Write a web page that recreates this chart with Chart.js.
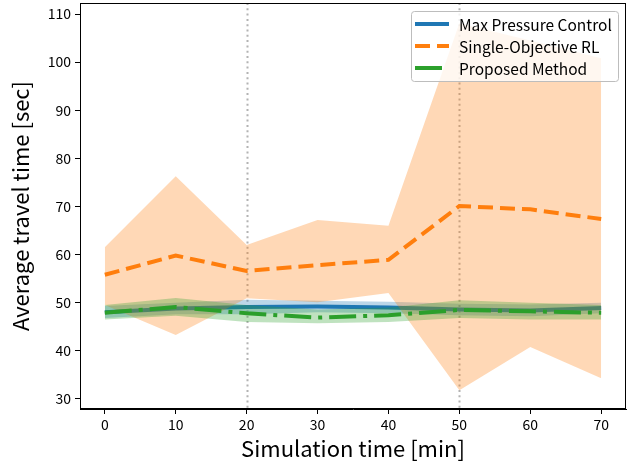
<!DOCTYPE html>
<html>
<head>
<meta charset="utf-8">
<script src="https://cdn.jsdelivr.net/npm/chart.js@4"></script>
<style>
  html, body { margin: 0; padding: 0; background: #fff; }
  #wrap { width: 635px; height: 466px; }
</style>
</head>
<body>
<div id="wrap"><canvas id="travelChart" width="635" height="466"></canvas></div>
<script>
// simulation time [min]
const times = [0, 10, 20, 30, 40, 50, 60, 70];

// Max Pressure Control
const maxPressureMean = [48.0, 48.8, 49.1, 49.2, 49.0, 48.6, 48.4, 48.9];
const maxPressureHigh = [49.3, 50.0, 50.6, 50.4, 50.2, 49.8, 49.6, 50.0];
const maxPressureLow  = [46.8, 47.6, 47.6, 48.0, 47.8, 47.4, 47.2, 47.8];

// Single-Objective RL
const singleRlMean = [55.8, 59.8, 56.6, 57.8, 58.9, 70.1, 69.4, 67.4];
const singleRlHigh = [61.5, 76.3, 62.0, 67.2, 66.0, 108.1, 104.5, 100.8];
const singleRlLow  = [49.5, 43.3, 50.9, 50.1, 52.0, 31.8, 40.8, 34.3];

// Proposed Method
const proposedMean = [47.9, 49.1, 47.8, 46.9, 47.4, 48.5, 48.2, 47.9];
const proposedHigh = [49.5, 51.0, 49.5, 48.6, 49.0, 50.5, 50.0, 49.5];
const proposedLow  = [46.5, 47.3, 46.0, 45.7, 46.0, 46.8, 46.5, 46.5];

// dotted reference lines
const markerTimes = [20, 50];

const xTicks = [0, 10, 20, 30, 40, 50, 60, 70];
const yTicks = [30, 40, 50, 60, 70, 80, 90, 100, 110];

const FONT = '"Noto Sans CJK JP", "Noto Sans", sans-serif';

const pts = arr => arr.map((v, i) => ({ x: times[i], y: v }));

function band(high, low, fillColor) {
  return [
    { label: "_band", data: pts(high), borderWidth: 0, pointRadius: 0,
      backgroundColor: fillColor, fill: "+1", tension: 0 },
    { label: "_band", data: pts(low), borderWidth: 0, pointRadius: 0,
      backgroundColor: fillColor, fill: false, tension: 0 }
  ];
}

function meanLine(label, data, color, dash) {
  return { label, data: pts(data), borderColor: color, backgroundColor: color,
    borderWidth: 4, borderDash: dash, pointRadius: 0, fill: false, tension: 0,
    borderCapStyle: "butt" };
}

const series = [
  { label: "Max Pressure Control", color: "#1f77b4", dash: [] },
  { label: "Single-Objective RL", color: "#ff7f0e", dash: [15, 7] },
  { label: "Proposed Method", color: "#2ca02c", dash: [27, 7, 4, 7] }
];

// draw order like the original: line then its band, per method
const datasets = [
  meanLine(series[0].label, maxPressureMean, series[0].color, series[0].dash),
  ...band(maxPressureHigh, maxPressureLow, "rgba(31,119,180,0.3)"),
  meanLine(series[1].label, singleRlMean, series[1].color, series[1].dash),
  ...band(singleRlHigh, singleRlLow, "rgba(255,127,14,0.3)"),
  meanLine(series[2].label, proposedMean, series[2].color, series[2].dash),
  ...band(proposedHigh, proposedLow, "rgba(44,160,44,0.3)")
];
// later datasets draw first in Chart.js, so reverse to keep the stacking
datasets.forEach((d, i) => { d.order = datasets.length - i; });

// frame, dotted markers and legend
const decorPlugin = {
  id: "decor",
  beforeDatasetsDraw(chart) {
    const { ctx, chartArea: a, scales } = chart;
    ctx.save();
    ctx.strokeStyle = "rgba(128,128,128,0.6)";
    ctx.lineWidth = 2;
    ctx.setLineDash([2, 3.3]);
    markerTimes.forEach(t => {
      const x = Math.round(scales.x.getPixelForValue(t)) + 0.5;
      ctx.beginPath();
      ctx.moveTo(x, a.top);
      ctx.lineTo(x, a.bottom);
      ctx.stroke();
    });
    ctx.restore();
  },
  afterDraw(chart) {
    const { ctx, chartArea: a } = chart;
    ctx.save();
    ctx.strokeStyle = "#000";
    ctx.lineWidth = 1;
    ctx.strokeRect(a.left + 0.5, a.top + 0.5, a.right - a.left - 1, a.bottom - a.top - 1);

    // legend box
    const lx = 411, ly = 11, lw = 207, lh = 70;
    ctx.fillStyle = "rgba(255,255,255,0.8)";
    ctx.strokeStyle = "#bdbdbd";
    ctx.lineWidth = 1;
    ctx.beginPath();
    ctx.roundRect(lx + 0.5, ly + 0.5, lw, lh, 3);
    ctx.fill();
    ctx.stroke();
    ctx.font = "15.5px " + FONT;
    ctx.textBaseline = "middle";
    series.forEach((s, i) => {
      const y = ly + 13 + i * 22;
      ctx.strokeStyle = s.color;
      ctx.lineWidth = 4;
      ctx.setLineDash(s.dash);
      ctx.beginPath();
      ctx.moveTo(415, y);
      ctx.lineTo(449, y);
      ctx.stroke();
      ctx.setLineDash([]);
      ctx.fillStyle = "#000";
      ctx.fillText(s.label, 459, y + 1);
    });
    ctx.restore();
  }
};

new Chart(document.getElementById("travelChart"), {
  type: "line",
  data: { datasets },
  options: {
    responsive: false,
    animation: false,
    layout: { padding: { top: 3, right: 9, left: 0, bottom: 0 } },
    plugins: { legend: { display: false }, tooltip: { enabled: false } },
    scales: {
      x: {
        type: "linear",
        min: -3.5, max: 73.5,
        afterBuildTicks: s => { s.ticks = xTicks.map(v => ({ value: v })); },
        afterFit: s => { s.height = 57; s.paddingLeft = 0; s.paddingRight = 0; },
        grid: { drawOnChartArea: false, drawTicks: true, tickLength: 5, color: "#000" },
        border: { color: "#000" },
        ticks: { color: "#000", font: { family: FONT, size: 14 }, padding: 2 },
        title: { display: true, text: "Simulation time [min]", color: "#000",
          font: { family: FONT, size: 22 }, padding: { top: -2 } }
      },
      y: {
        min: 27.9, max: 112.3,
        afterBuildTicks: s => { s.ticks = yTicks.map(v => ({ value: v })); },
        afterFit: s => { s.width = 80; s.paddingTop = 0; s.paddingBottom = 0; },
        grid: { drawOnChartArea: false, drawTicks: true, tickLength: 5, color: "#000" },
        border: { color: "#000" },
        ticks: { color: "#000", font: { family: FONT, size: 14 }, padding: 4 },
        title: { display: true, text: "Average travel time [sec]", color: "#000",
          font: { family: FONT, size: 22 }, padding: { top: 7, bottom: 0 } }
      }
    }
  },
  plugins: [decorPlugin]
});
</script>
</body>
</html>
